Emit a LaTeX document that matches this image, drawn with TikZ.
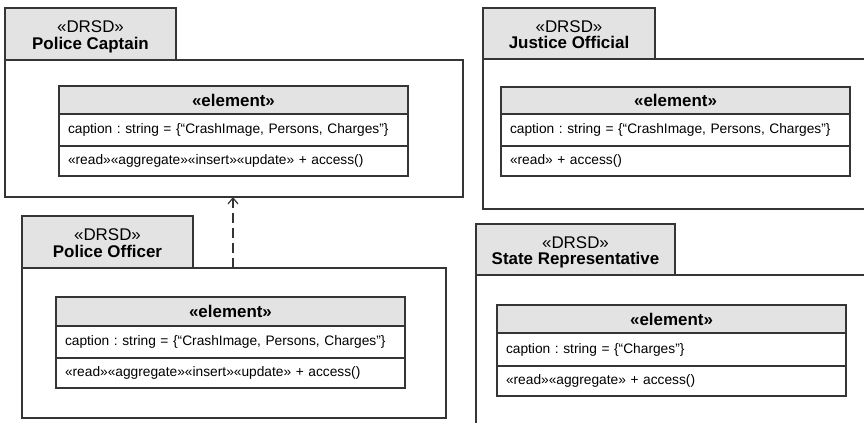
\documentclass[tikz,border=0pt]{standalone}
\usepackage{fontspec}
\setmainfont{Liberation Sans}
\usetikzlibrary{arrows.meta}
\definecolor{tabgray}{HTML}{E3E3E3}
\definecolor{ink}{HTML}{353535}
\frenchspacing
\tikzset{
  every node/.style={inner sep=0pt, outer sep=0pt},
  pkgtab/.style={draw=ink, fill=tabgray, line width=1.2bp, anchor=north west,
    align=center, font=\fontsize{17}{17.5}\selectfont},
  pkgbody/.style={draw=ink, line width=1.2bp, anchor=north west},
  elhead/.style={draw=ink, fill=tabgray, line width=1.2bp, anchor=north west,
    text width=331bp, inner xsep=9bp, align=center, minimum height=28bp,
    font=\fontsize{17}{20}\selectfont\bfseries},
  elrow/.style={draw=ink, line width=1.2bp, anchor=north west,
    text width=331bp, inner xsep=9bp, align=left,
    font=\fontsize{13.8}{16}\selectfont},
  dep/.style={draw=ink, line width=1.2bp, dash pattern=on 10bp off 5bp,
    -{Straight Barb[length=6bp,width=10bp,line width=1.2bp]}}
}
% two-line package tab label, set a little below the tab's centre
\newcommand{\tabtext}[2]{\raisebox{-3.5bp}[\height][\depth]{\begin{tabular}{@{}c@{}}#1\\[-1bp]\textbf{#2}\end{tabular}}}
\begin{document}
\begin{tikzpicture}[x=1bp, y=-1bp]
\useasboundingbox (0,0) rectangle (864,422);

% Police Captain package
\node[pkgbody, minimum width=458bp, minimum height=137bp] (pcBody) at (5,60) {};
\node[pkgtab, minimum width=171bp, minimum height=52bp] (pcTab) at (5,8)
  {\tabtext{«DRSD»}{Police Captain}};
\node[elhead] (pcHead) at (59,86) {«element»};
\node[elrow, minimum height=32bp] (pcAttr) at (pcHead.south west)
  {caption : string = \{“CrashImage, Persons, Charges”\}};
\node[elrow, minimum height=30bp] (pcOps) at (pcAttr.south west)
  {«read»«aggregate»«insert»«update» + access()};

% Police Officer package
\node[pkgbody, minimum width=424bp, minimum height=150bp] (poBody) at (22,268) {};
\node[pkgtab, minimum width=171bp, minimum height=52bp] (poTab) at (22,216)
  {\tabtext{«DRSD»}{Police Officer}};
\node[elhead, minimum height=29bp] (poHead) at (56,297) {«element»};
\node[elrow, minimum height=32bp] (poAttr) at (poHead.south west)
  {caption : string = \{“CrashImage, Persons, Charges”\}};
\node[elrow, minimum height=30bp] (poOps) at (poAttr.south west)
  {«read»«aggregate»«insert»«update» + access()};

% Justice Official package (runs past the right edge)
\draw[draw=ink, line width=1.2bp] (866,59) -- (483,59) -- (483,209) -- (866,209);
\node[pkgtab, minimum width=172bp, minimum height=51bp] (joTab) at (483,8)
  {\tabtext{«DRSD»}{Justice Official}};
\node[elhead, minimum height=27bp] (joHead) at (501,87) {«element»};
\node[elrow, minimum height=32bp] (joAttr) at (joHead.south west)
  {caption : string = \{“CrashImage, Persons, Charges”\}};
\node[elrow, minimum height=30bp] (joOps) at (joAttr.south west)
  {«read» + access()};

% State Representative package (runs past the right and bottom edges)
\draw[draw=ink, line width=1.2bp] (866,275) -- (476,275) -- (476,424);
\node[pkgtab, minimum width=199bp, minimum height=51bp] (srTab) at (476,224)
  {\tabtext{«DRSD»}{State Representative}};
\node[elhead, minimum height=28bp] (srHead) at (497,305) {«element»};
\node[elrow, minimum height=33bp] (srAttr) at (srHead.south west)
  {caption : string = \{“Charges”\}};
\node[elrow, minimum height=30bp] (srOps) at (srAttr.south west)
  {«read»«aggregate» + access()};

% Dependency from Police Officer to Police Captain
\coordinate (depx) at (233,0);
\draw[dep] (poBody.north -| depx) -- (pcBody.south -| depx);
\end{tikzpicture}
\end{document}
